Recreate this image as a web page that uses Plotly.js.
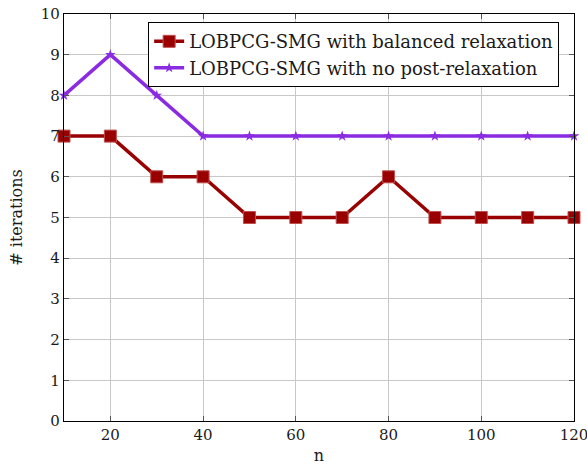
<!DOCTYPE html>
<html>
<head>
<meta charset="utf-8">
<script src="https://cdn.plot.ly/plotly-3.0.1.min.js"></script>
<style>html,body{margin:0;padding:0;background:#fff;}#chart{width:587px;height:466px;}</style>
</head>
<body>
<div id="chart"></div>
<script>
// Problem sizes and iteration counts
const nValues = [10, 20, 30, 40, 50, 60, 70, 80, 90, 100, 110, 120];
const balancedIters = [7, 7, 6, 6, 5, 5, 5, 6, 5, 5, 5, 5];
const noPostIters = [8, 9, 8, 7, 7, 7, 7, 7, 7, 7, 7, 7];
const seriesNames = ['LOBPCG-SMG with balanced relaxation', 'LOBPCG-SMG with no post-relaxation'];
const xTicks = [20, 40, 60, 80, 100, 120];
const yTicks = [0, 1, 2, 3, 4, 5, 6, 7, 8, 9, 10];

const fontFam = 'DejaVu Serif, Liberation Serif, serif';

const traces = [
  {
    x: nValues, y: balancedIters, name: seriesNames[0],
    mode: 'lines+markers', cliponaxis: false,
    line: {color: '#990000', width: 3.5},
    marker: {symbol: 'square', size: 12, color: '#990000', line: {color: '#c05050', width: 1}}
  },
  {
    x: nValues, y: noPostIters, name: seriesNames[1],
    mode: 'lines+markers', cliponaxis: false,
    line: {color: '#8a2be2', width: 3.5},
    marker: {symbol: 'star', size: 8, color: '#8a2be2'}
  }
];

const axisCommon = {
  showline: true, linecolor: '#000', linewidth: 1.2, mirror: 'ticks',
  ticks: 'inside', ticklen: 5, tickcolor: '#555', tickwidth: 1,
  showgrid: true, gridcolor: '#c8c8c8', gridwidth: 1,
  zeroline: false,
  ticklabeloverflow: 'allow',
  tickfont: {family: fontFam, size: 15, color: '#1a1a1a'}
};

const layout = {
  width: 587, height: 466,
  margin: {l: 64, r: 13, t: 14, b: 45},
  paper_bgcolor: '#fff', plot_bgcolor: '#fff',
  showlegend: true,
  xaxis: Object.assign({}, axisCommon, {
    range: [10, 120], tickvals: xTicks, ticktext: xTicks.map(String),
    title: {text: 'n', font: {family: fontFam, size: 16, color: '#1a1a1a'}, standoff: 6}
  }),
  yaxis: Object.assign({}, axisCommon, {
    range: [0, 10], tickvals: yTicks, ticktext: yTicks.map(String),
    title: {text: '# iterations', font: {family: fontFam, size: 16, color: '#1a1a1a'}, standoff: 14}
  }),
  legend: {
    x: 0.165, y: 0.98, xanchor: 'left', yanchor: 'top',
    bgcolor: '#fff', bordercolor: '#000', borderwidth: 1,
    font: {family: fontFam, size: 18, color: '#1a1a1a'},
    tracegroupgap: 0
  }
};

Plotly.newPlot('chart', traces, layout, {displayModeBar: false, staticPlot: true});
</script>
</body>
</html>
